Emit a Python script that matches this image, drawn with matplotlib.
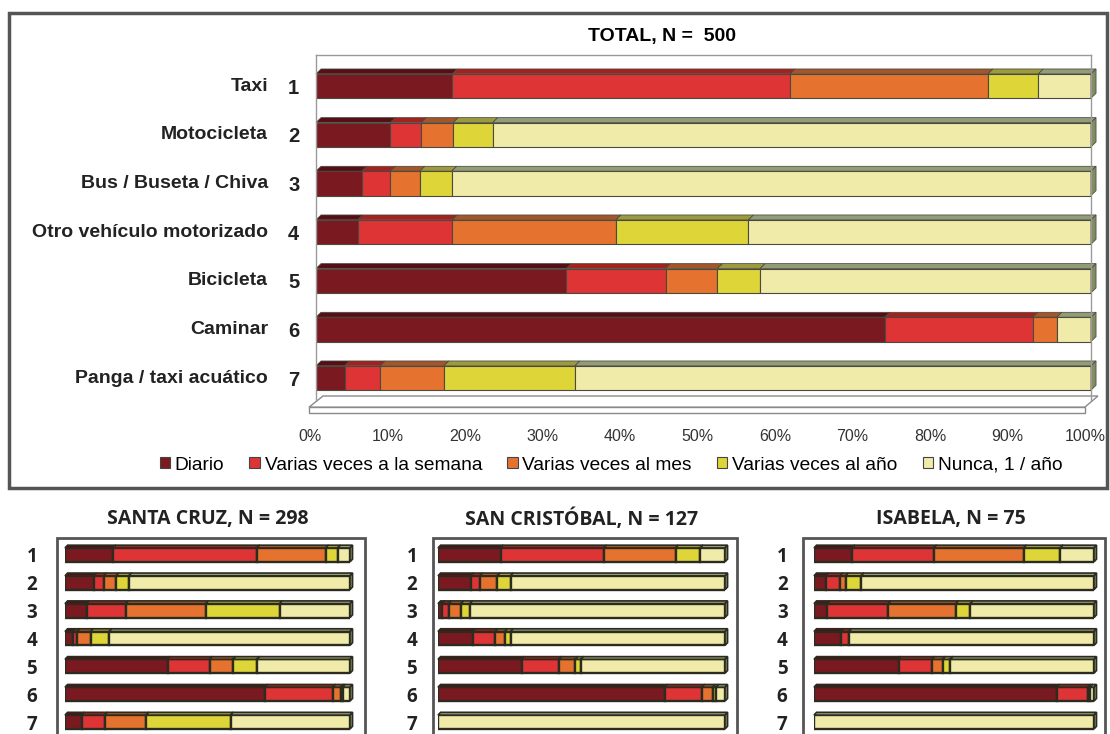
import matplotlib.pyplot as plt
from matplotlib.patches import Polygon, Rectangle, Patch
from matplotlib import transforms

# frequency of use (% of households) per transport mode
modes = ['Taxi', 'Motocicleta', 'Bus / Buseta / Chiva', 'Otro vehículo motorizado',
         'Bicicleta', 'Caminar', 'Panga / taxi acuático']
freq_labels = ['Diario', 'Varias veces a la semana', 'Varias veces al mes',
               'Varias veces al año', 'Nunca, 1 / año']
row_numbers = ['1', '2', '3', '4', '5', '6', '7']
pct_ticks = [0, 10, 20, 30, 40, 50, 60, 70, 80, 90, 100]

total_pct = [
    [17.6, 43.6, 25.5, 6.5, 6.8],
    [9.6, 4.0, 4.1, 5.1, 77.2],
    [5.9, 3.7, 3.8, 4.1, 82.5],
    [5.4, 12.2, 21.1, 17.1, 44.2],
    [32.3, 12.8, 6.7, 5.5, 42.7],
    [73.4, 19.1, 3.1, 0.0, 4.4],
    [3.7, 4.6, 8.2, 16.9, 66.6],
]
santa_cruz_pct = [
    [16.9, 50.5, 24.1, 4.2, 4.3],
    [10.1, 3.5, 4.4, 4.4, 77.6],
    [7.6, 13.7, 28.1, 25.9, 24.7],
    [2.7, 1.6, 4.7, 6.5, 84.5],
    [36.0, 14.8, 8.2, 8.4, 32.6],
    [70.3, 23.7, 2.8, 0.6, 2.6],
    [5.8, 8.2, 14.5, 29.6, 41.9],
]
san_cristobal_pct = [
    [21.8, 36.0, 25.0, 8.6, 8.6],
    [11.5, 3.1, 6.1, 4.6, 74.7],
    [1.5, 2.3, 4.2, 3.1, 88.9],
    [12.1, 7.8, 3.4, 2.0, 74.7],
    [29.1, 13.1, 5.7, 1.9, 50.2],
    [79.0, 13.0, 3.7, 1.2, 3.1],
    [0.0, 0.0, 0.0, 0.0, 100.0],
]
isabela_pct = [
    [13.7, 29.1, 32.1, 13.1, 12.0],
    [4.2, 5.2, 1.9, 5.6, 83.1],
    [4.7, 21.8, 24.2, 5.1, 44.2],
    [9.8, 2.7, 0.0, 0.0, 87.5],
    [30.2, 12.0, 3.8, 2.7, 51.3],
    [86.8, 11.1, 0.7, 0.0, 1.4],
    [0.0, 0.0, 0.0, 0.0, 100.0],
]

face_colors = ['#7a1a20', '#de3436', '#e5732f', '#ded638', '#f0eba8']
top_colors = ['#561015', '#a4211f', '#a4552a', '#9c9a3c', '#929c76']
side_color = '#7f8b62'

W, H = 1110, 734
fig = plt.figure(figsize=(W / 100, H / 100), dpi=100)
plt.rcParams['font.family'] = ['Liberation Sans', 'DejaVu Sans']


def px_axes(x0, y0, x1, y1):
    return fig.add_axes([x0 / W, 1 - y1 / H, (x1 - x0) / W, (y1 - y0) / H])


def px_box(x0, y0, x1, y1, lw):
    fig.patches.append(Rectangle((x0 / W, 1 - y1 / H), (x1 - x0) / W, (y1 - y0) / H,
                                 transform=fig.transFigure, fill=False,
                                 edgecolor='#555555', linewidth=lw))


def draw_bars(ax, rows, height, dx, dy, edge, lw):
    for i, row in enumerate(rows):
        left = 0
        top = i - height / 2
        bottom = i + height / 2
        for j, v in enumerate(row):
            if v <= 0:
                continue
            ax.barh(i, v, left=left, height=height, color=face_colors[j],
                    edgecolor=edge, linewidth=lw)
            ax.add_patch(Polygon([(left, top), (left + v, top), (left + v + dx, top - dy),
                                  (left + dx, top - dy)], closed=True,
                                 facecolor=top_colors[j], edgecolor=edge,
                                 linewidth=lw * 0.7, clip_on=False))
            left += v
        ax.add_patch(Polygon([(left, top), (left + dx, top - dy), (left + dx, bottom - dy),
                              (left, bottom)], closed=True, facecolor=side_color,
                             edgecolor=edge, linewidth=lw * 0.7, clip_on=False))


# ---- TOTAL chart ----
px_box(9, 13, 1107, 488, 2.5)
ax = px_axes(316, 55, 1091, 400)
ax.set_xlim(0, 100)
ax.set_ylim(6.452, -0.637)
draw_bars(ax, total_pct, 0.5, 0.65, 0.1, '#4a4a40', 0.8)

# floor of the 3d plot
ax.add_patch(Polygon([(-0.9, 6.6), (99.2, 6.6), (100.9, 6.37), (0.9, 6.37)], closed=True,
                     facecolor='white', edgecolor='#8a8a8a', linewidth=1, clip_on=False))
ax.add_patch(Rectangle((-0.9, 6.6), 100.1, 0.12, facecolor='white',
                       edgecolor='#8a8a8a', linewidth=1, clip_on=False))
ax.spines['bottom'].set_visible(False)
for s in ['left', 'top', 'right']:
    ax.spines[s].set_color('#9a9a9a')
    ax.spines[s].set_linewidth(1)
ax.set_xticks(pct_ticks)
ax.set_xticklabels([f'{t}%' for t in pct_ticks], fontsize=11.5, color='#333333')
ax.tick_params(axis='x', length=0, pad=21)
shift = transforms.ScaledTranslation(-6 / 100, 0, fig.dpi_scale_trans)
for lab in ax.get_xticklabels():
    lab.set_transform(lab.get_transform() + shift)
ax.set_yticks(range(7))
ax.set_yticklabels(row_numbers, fontsize=14.5, fontweight='bold', color='#222222')
ax.tick_params(axis='y', length=0, pad=12)
for i, name in enumerate(modes):
    ax.text(-0.062, i, name, ha='right', va='center', fontsize=14, fontweight='bold',
            color='#222222', transform=ax.get_yaxis_transform())
ax.set_title('TOTAL, N =  500', fontsize=14, fontweight='bold', pad=10, x=0.447)

handles = [Patch(facecolor=c, edgecolor='#444444', linewidth=0.8) for c in face_colors]
fig.legend(handles, freq_labels, loc='center', bbox_to_anchor=(611 / W, 1 - 465 / H),
           ncol=5, frameon=False, fontsize=13.8, handlelength=0.55, handleheight=0.55,
           handletextpad=0.25, columnspacing=1.3)

# ---- island charts ----
islands = [
    ('SANTA CRUZ, N = 298', santa_cruz_pct, 65, 350, 57, 365, 20),
    ('SAN CRISTÓBAL, N = 127', san_cristobal_pct, 438, 725, 433, 737, 15),
    ('ISABELA, N = 75', isabela_pct, 814, 1094, 803, 1105, 19),
]
for title, rows, bx0, bx1, fx0, fx1, pad in islands:
    px_box(fx0, 538, fx1, 760, 2)
    sub = px_axes(bx0, 541, bx1, 736)
    sub.set_xlim(0, 100)
    sub.set_ylim(6.5, -0.5)
    draw_bars(sub, rows, 0.5, 0.9, 0.1, '#2b2b20', 1.7)
    for s in sub.spines.values():
        s.set_visible(False)
    sub.set_xticks([])
    sub.set_yticks(range(7))
    sub.set_yticklabels(row_numbers, fontsize=13.5, fontweight='bold', color='#222222',
                        family=['Open Sans', 'DejaVu Sans'])
    sub.tick_params(axis='y', length=0, pad=pad)
    fig.text((fx0 + fx1) / 2 / W - 0.003, 1 - 519 / H, title, ha='center', va='center',
             fontsize=14, fontweight='bold', color='#222222',
             family=['Open Sans', 'DejaVu Sans'])

fig.savefig('out.png', dpi=100)
